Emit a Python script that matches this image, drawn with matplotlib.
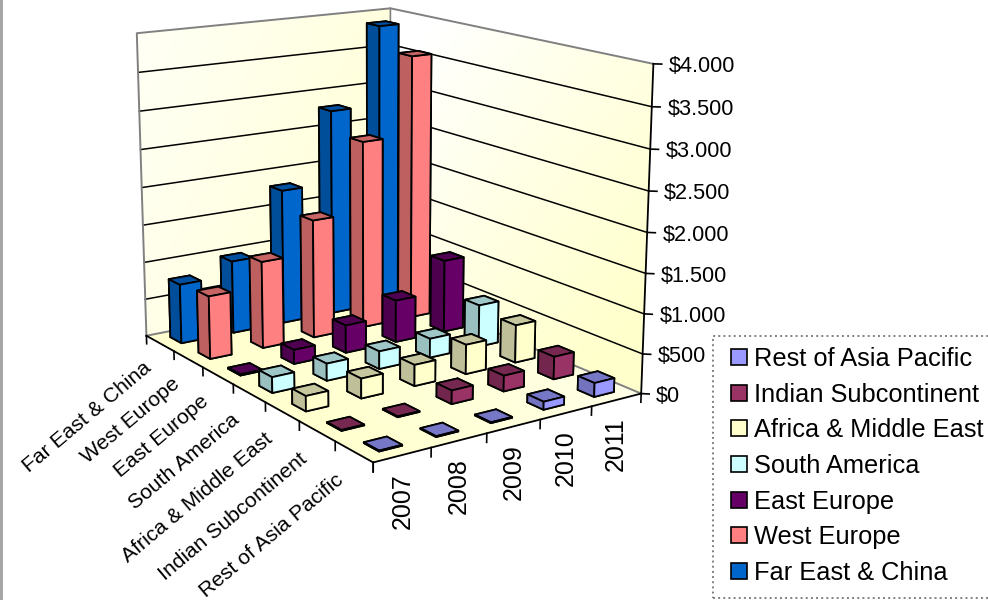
import matplotlib
matplotlib.use("Agg")
import matplotlib.pyplot as plt
import matplotlib.colors as mcolors
import numpy as np
from matplotlib.patches import Patch, Rectangle
from mpl_toolkits.mplot3d import proj3d

plt.rcParams['font.family'] = ['Liberation Sans', 'DejaVu Sans']

W, H = 988, 600

years = ['2007', '2008', '2009', '2010', '2011']
# regions run from the front of the floor to the back
regions = ['Rest of Asia Pacific', 'Indian Subcontinent', 'Africa & Middle East',
           'South America', 'East Europe', 'West Europe', 'Far East & China']
rest_asia = [10, 10, 10, 100, 175]
indian = [10, 10, 170, 200, 290]
africa = [190, 250, 270, 380, 490]
south_america = [200, 220, 230, 250, 555]
east_europe = [15, 185, 365, 560, 970]
west_europe = [825, 1150, 1580, 2520, 3570]
far_east = [790, 975, 1820, 2800, 3870]
series = [rest_asia, indian, africa, south_america, east_europe, west_europe, far_east]
colors = ['#9999FF', '#993366', '#FFFFCC', '#CCFFFF', '#660066', '#FF8080', '#0066CC']
value_ticks = [0, 500, 1000, 1500, 2000, 2500, 3000, 3500, 4000]
value_labels = ['$0', '$500', '$1.000', '$1.500', '$2.000', '$2.500', '$3.000', '$3.500', '$4.000']

nx, ny, zmax = len(years), len(regions), value_ticks[-1]

fig = plt.figure(figsize=(W / 100, H / 100), dpi=100)
fig.patch.set_facecolor('white')

# camera fitted by hand, rect given in pixels from the top left
left, top, side = 70.56, -86.83, 608.04
ax = fig.add_axes([left / W, 1 - (top + side) / H, side / W, side / H], projection='3d')
ax.patch.set_alpha(0)
ax.view_init(14.3545, -124.3674, -0.0543)
ax.set_proj_type('persp', focal_length=0.572)
ax.set_box_aspect((1, 1.3694, 1.0317))
ax.set_axis_off()
ax.computed_zorder = False
ax.set_xlim(0, nx)
ax.set_ylim(0, ny)
ax.set_zlim(0, zmax)
proj = ax.get_proj()


def shade(c, k):
    return tuple(np.array(mcolors.to_rgb(c)) * k)


def fade(t):
    # white to pale yellow
    t = np.clip(t, 0, 1)
    rgb = np.ones(t.shape + (4,))
    rgb[..., 2] = 1 - t * 0.2
    return rgb


def label(x, y, z, s, **kw):
    # Text3D ignores rotation, so place the text in the 2d view plane instead
    vx, vy, _ = proj3d.proj_transform(x, y, z, proj)
    ax.text2D(vx, vy, s, transform=ax.transData, zorder=4, clip_on=False, **kw)


n = 60
u = np.linspace(0, 1, n + 1)
v = np.linspace(0, 1, n + 1)
uu, vv = np.meshgrid(u, v)
cu, cv = np.meshgrid((u[:-1] + u[1:]) / 2, (v[:-1] + v[1:]) / 2)

# left wall, floor and right wall with their gradients
ax.plot_surface(uu * nx, np.full_like(uu, ny), vv * zmax, facecolors=fade(0.2 + 0.45 * cu + 0.25 * (1 - cv)),
                shade=False, linewidth=0, antialiased=False, rstride=1, cstride=1, zorder=1)
ax.plot_surface(np.full_like(uu, nx), (1 - uu) * ny, vv * zmax, facecolors=fade(0.75 * cu + 0.55 * (1 - cv) - 0.15),
                shade=False, linewidth=0, antialiased=False, rstride=1, cstride=1, zorder=1)
ax.plot_surface(uu * nx, vv * ny, np.zeros_like(uu), facecolors=fade(0.95 - 0.5 * cu * (1 - cv)),
                shade=False, linewidth=0, antialiased=False, rstride=1, cstride=1, zorder=1)

# gridlines on both walls
for z in value_ticks[1:-1]:
    ax.plot([0, nx, nx], [ny, ny, 0], [z, z, z], color='black', lw=1.1, zorder=2)
# wall outline
ax.plot([0, 0, nx, nx], [ny, ny, ny, 0], [0, zmax, zmax, zmax], color='#808080', lw=1.4, zorder=2)
ax.plot([nx, nx], [ny, ny], [0, zmax], color='#808080', lw=1.2, zorder=2)
ax.plot([0, nx, nx], [ny, ny, 0], [0, 0, 0], color='#808080', lw=1.4, zorder=2)
# value axis and floor edges in black
ax.plot([nx, nx], [0, 0], [0, zmax], color='black', lw=1.3, zorder=2)
ax.plot([0, 0, nx], [ny, 0, 0], [0, 0, 0], color='black', lw=1.3, zorder=2)

# tick marks and labels
for z, text in zip(value_ticks, value_labels):
    ax.plot([nx, nx + 0.09], [0, -0.085], [z, z], color='black', lw=1.2, zorder=2)
    label(nx + 0.17, -0.16, z - 25, text, fontsize=15.6, ha='left', va='center')
for j in range(ny + 1):
    ax.plot([0, 0], [j, j], [0, -110], color='black', lw=1.2, zorder=2)
for i in range(nx + 1):
    ax.plot([i, i], [0, 0], [0, -110], color='black', lw=1.2, zorder=2)
for j, name in enumerate(regions):
    label(-0.22, j + 0.5, -270, name, fontsize=15.2, ha='right', va='center',
          rotation=40, rotation_mode='anchor')
for i, year in enumerate(years):
    label(i + 0.5, 0, -215, year, fontsize=18, ha='center', va='top', rotation=90)

# bars, back row first
for j in range(ny - 1, -1, -1):
    for i in range(nx - 1, -1, -1):
        bright, dark, cap = colors[j], shade(colors[j], 0.75), shade(colors[j], 0.78)
        ax.bar3d(i + 0.3, j + 0.3, 0, 0.4, 0.4, series[j][i], shade=False,
                 color=[cap, cap, bright, dark, dark, bright], edgecolor='black',
                 linewidth=1.3, zorder=5 + (ny - j) * 10 + (nx - i))

ax.set_xlim(0, nx)
ax.set_ylim(0, ny)
ax.set_zlim(0, zmax)

# legend box with a dotted outline
fig.add_artist(Rectangle((712.5 / W, 1 - 597.5 / H), 290 / W, 262 / H, transform=fig.transFigure,
                         facecolor='white', edgecolor='#808080', linestyle=':', linewidth=1.4, zorder=20))
handles = [Patch(facecolor=c, edgecolor='black', linewidth=1.2) for c in colors]
leg = fig.legend(handles, regions, loc='upper left', bbox_to_anchor=(731 / W, 1 - 347 / H),
                 frameon=False, fontsize=18.3, handlelength=0.62, handleheight=0.6,
                 handletextpad=0.3, labelspacing=0.458, borderpad=0, borderaxespad=0)
leg.set_zorder(21)

# thin grey border on the left side
fig.add_artist(Rectangle((0, 0), 2.5 / W, 1, transform=fig.transFigure, facecolor='#a6a6a6', edgecolor='none'))

fig.savefig('out.png', dpi=100)
